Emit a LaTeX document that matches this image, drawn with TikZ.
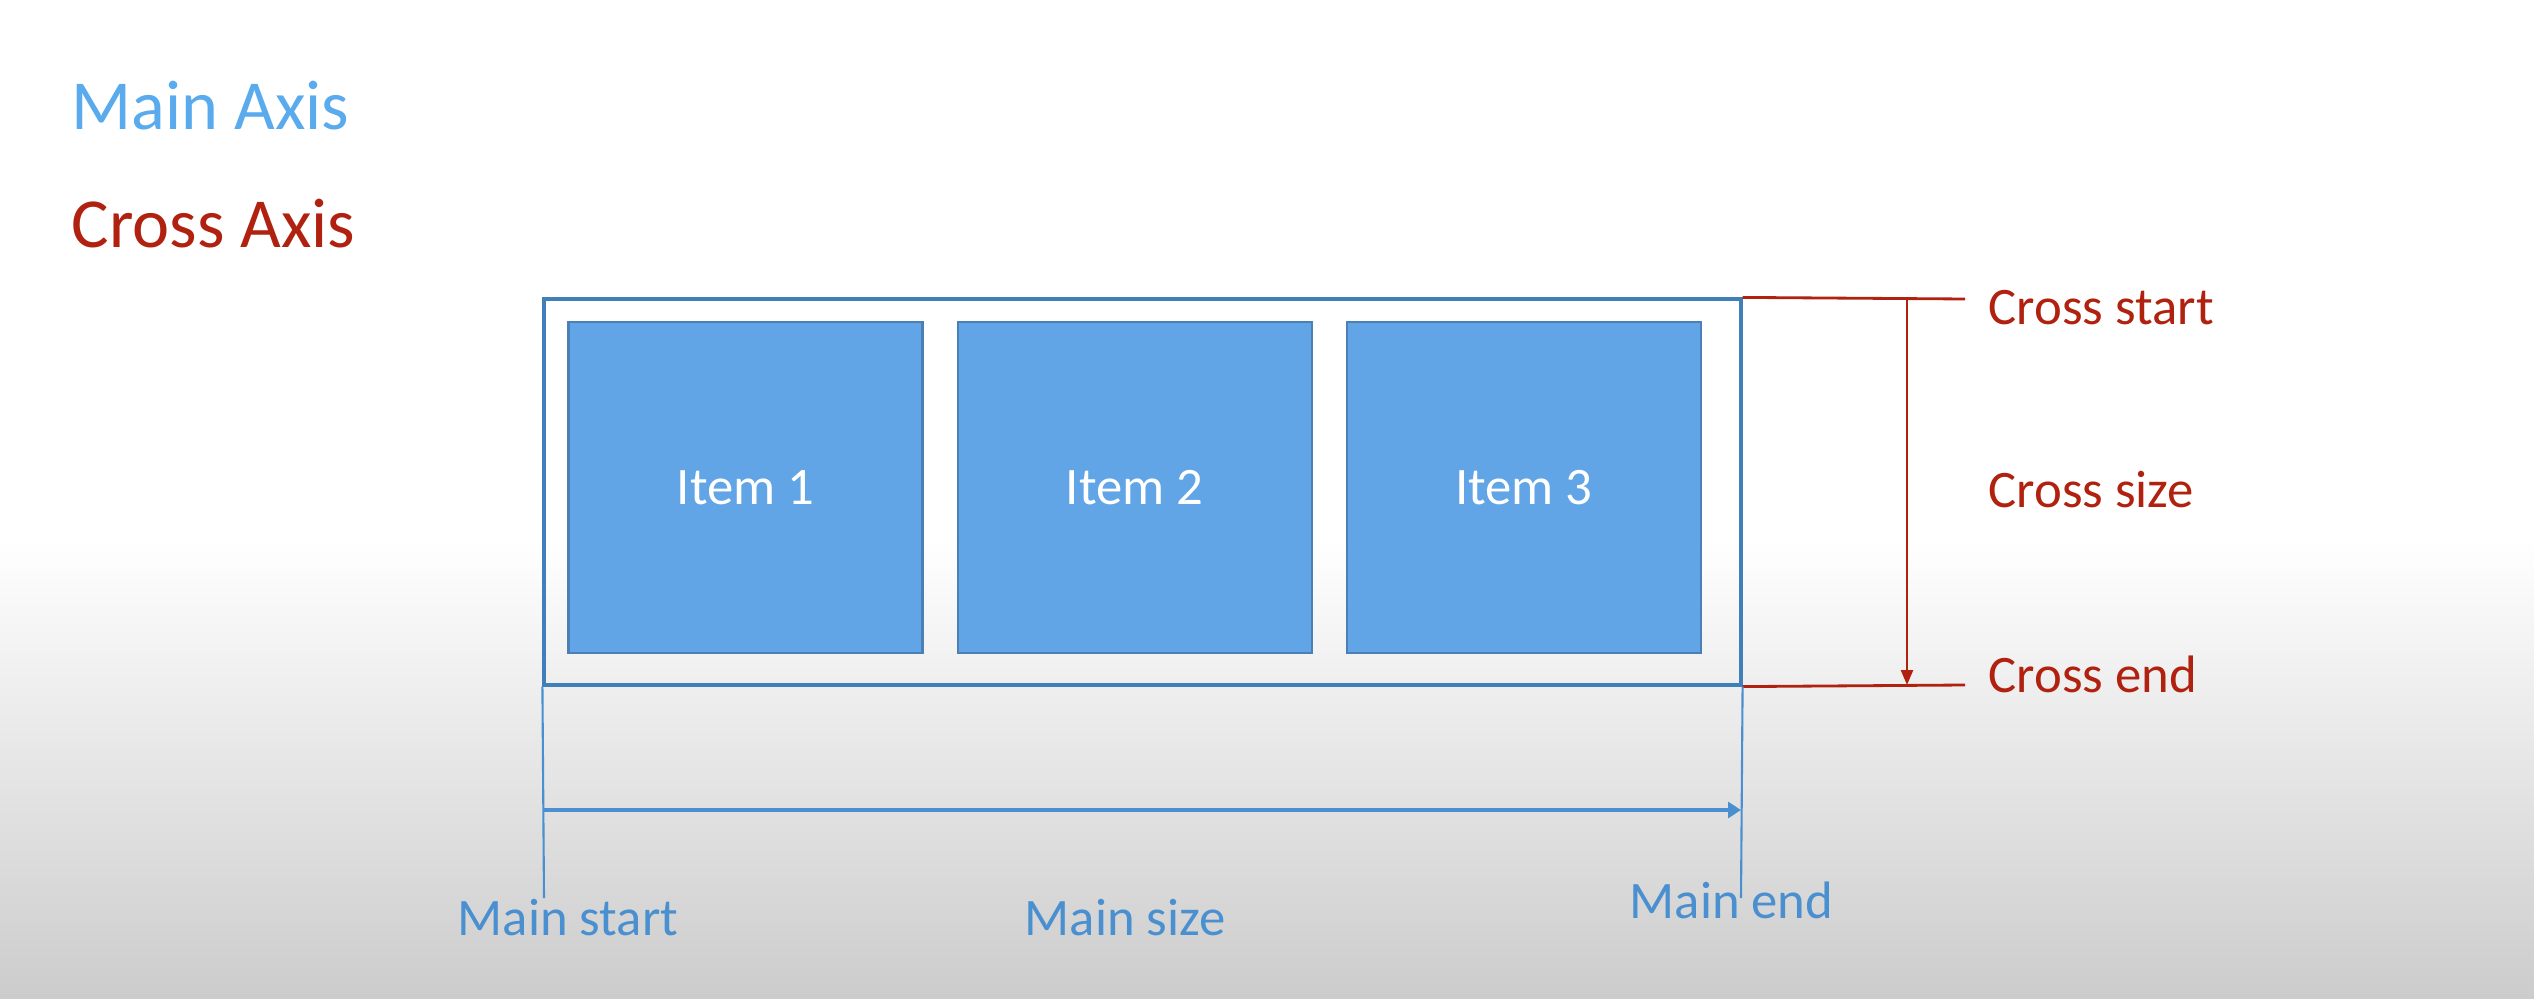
\documentclass[tikz,border=0pt]{standalone}
\usepackage{fontspec}
\setmainfont{Carlito}
\usetikzlibrary{positioning,arrows.meta}

\definecolor{mainblue}{HTML}{5AAAEE}
\definecolor{crossred}{HTML}{B0220F}
\definecolor{itemfill}{HTML}{61A5E6}
\definecolor{itemedge}{HTML}{4A80B5}
\definecolor{boxedge}{HTML}{3F80B8}
\definecolor{labelblue}{HTML}{4A90D0}

\tikzset{
  item/.style={draw=itemedge, line width=0.6pt, fill=itemfill, text=white,
    minimum width=3.54cm, minimum height=3.31cm, inner sep=0pt,
    font=\fontsize{15}{18}\selectfont},
  heading/.style={anchor=base west, inner sep=0pt, font=\fontsize{20}{24}\selectfont},
  crosslbl/.style={anchor=base west, inner sep=0pt, text=crossred, font=\fontsize{15}{18}\selectfont},
  mainlbl/.style={anchor=base west, inner sep=0pt, text=labelblue, font=\fontsize{15}{18}\selectfont},
  crossline/.style={draw=crossred, line width=0.8pt},
  mainline/.style={draw=labelblue, line width=0.6pt}
}

\begin{document}
\begin{tikzpicture}[node distance=0.33cm]
  \useasboundingbox (0,0) rectangle (25.34,9.98);
  % background
  \fill[white] (0,0) rectangle (25.34,9.98);
  \shade[top color=white, bottom color=black!20] (0,0) rectangle (25.34,4.6);

  \node (mainax)  [heading, text=mainblue] at (0.71,8.68) {Main Axis};
  \node (crossax) [heading, text=crossred] at (0.71,7.51) {Cross Axis};

  % flex container and items
  \node (flex) [draw=boxedge, line width=0.9pt, minimum width=11.97cm,
    minimum height=3.86cm, inner sep=0pt] at (11.425,5.06) {};
  \node (item1) [item] at (7.455,5.105) {Item 1};
  \node (item2) [item, right=of item1] {Item 2};
  \node (item3) [item, right=of item2] {Item 3};

  % cross axis
  \coordinate (cstop) at (19.65,6.99);
  \coordinate (csbot) at (19.65,3.13);
  \coordinate (carrtop) at (19.07,6.99);
  \coordinate (carrbot) at (19.07,3.13);
  \draw[crossline] (flex.north east) -- (cstop);
  \draw[crossline] (flex.south east) -- (csbot);
  \draw[crossline, line width=0.7pt, -{Triangle[length=1.5mm,width=1.2mm]}] (carrtop) -- (carrbot);
  \node (cstart) [crosslbl] at (19.88,6.73) {Cross start};
  \node (csize)  [crosslbl] at (19.88,4.91) {Cross size};
  \node (cend)   [crosslbl] at (19.88,3.06) {Cross end};

  % main axis
  \coordinate (mstart) at (5.44,1.00);
  \coordinate (mend) at (17.41,1.00);
  \coordinate (marrl) at (5.44,1.88);
  \coordinate (marrr) at (17.41,1.88);
  \draw[mainline] (flex.south west) -- (mstart);
  \draw[mainline] (flex.south east) -- (mend);
  \draw[mainline, line width=0.9pt, -{Triangle[length=1.3mm,width=1.6mm]}] (marrl) -- (marrr);
  \node (mstartlbl) [mainlbl] at (4.57,0.63) {Main start};
  \node (msizelbl)  [mainlbl] at (10.24,0.63) {Main size};
  \node (mendlbl)   [mainlbl] at (16.29,0.80) {Main end};
\end{tikzpicture}
\end{document}
